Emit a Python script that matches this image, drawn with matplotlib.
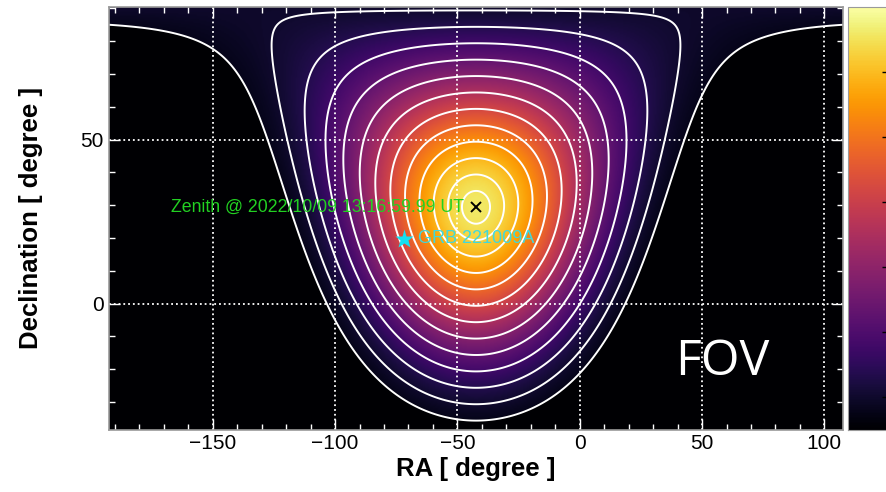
import numpy as np
import matplotlib
matplotlib.use("Agg")
import matplotlib.pyplot as plt
from matplotlib.ticker import MultipleLocator

# zenith of the site and the burst position (degrees)
zenith_ra = -42.4
zenith_dec = 29.36
grb_ra = -71.74
grb_dec = 19.77
zenith_label = "Zenith @ 2022/10/09 13:16:59.99 UT"
grb_label = "GRB 221009A"

# contours of zenith angle (degrees)
zenith_levels = [5, 10, 15, 20, 25, 30, 35, 40, 45, 50, 55, 60, 65]
# exposure shape ~ cos(z)^n, cut beyond z_cut
exposure_index = 3.5
z_cut = 65.0
exposure_peak = 0.61

ra_ticks = [-150, -100, -50, 0, 50, 100]
dec_ticks = [0, 50]
cbar_ticks = [0.05, 0.15, 0.25, 0.35, 0.45, 0.55]
ra_range = (zenith_ra - 150, zenith_ra + 150)
dec_range = (-38.5, 90.5)

plt.rcParams["font.family"] = ["Liberation Sans", "DejaVu Sans"]

# grid in RA / Dec
ra = np.linspace(ra_range[0], ra_range[1], 601)
dec = np.linspace(dec_range[0], dec_range[1], 301)
RA, DEC = np.meshgrid(ra, dec)
lat = np.radians(zenith_dec)
cosz = (np.sin(np.radians(DEC)) * np.sin(lat)
        + np.cos(np.radians(DEC)) * np.cos(lat) * np.cos(np.radians(RA - zenith_ra)))
zen = np.degrees(np.arccos(np.clip(cosz, -1, 1)))
exposure = exposure_peak * np.clip(cosz, 0, 1) ** exposure_index
exposure[zen > z_cut] = 0.0

fig = plt.figure(figsize=(8.86, 4.92), dpi=100)
ax = fig.add_axes([109 / 886, 62 / 492, 734 / 886, 423.3 / 492])
cax = fig.add_axes([848 / 886, 62 / 492, 44 / 886, 423.3 / 492])

im = ax.imshow(exposure, extent=[ra[0], ra[-1], dec[0], dec[-1]], origin="lower",
               aspect="auto", cmap="inferno", vmin=0, vmax=0.65, interpolation="bilinear")
ax.contour(RA, DEC, zen, levels=zenith_levels, colors="white", linewidths=1.4)

ax.set_xlim(ra_range)
ax.set_ylim(dec_range)

# ROOT-like axes: ticks inside, white, dotted grid
ax.set_xticks(ra_ticks)
ax.set_yticks(dec_ticks)
ax.xaxis.set_minor_locator(MultipleLocator(10))
ax.yaxis.set_minor_locator(MultipleLocator(10))
ax.tick_params(which="both", direction="in", top=True, right=True, colors="white",
               labelcolor="black", labelsize=15)
ax.tick_params(which="major", length=8, width=1)
ax.tick_params(which="minor", length=4.5, width=1)
ax.tick_params(axis="x", pad=3)
ax.tick_params(axis="y", pad=4)
ax.grid(which="major", color="white", linestyle=":", linewidth=1.3)
for s in ax.spines.values():
    s.set_color("#9a9a9a")
    s.set_linewidth(1.2)

ax.set_xlabel("RA [ degree ]", fontsize=18.5, fontweight="bold", va="center")
ax.set_ylabel("Declination [ degree ]", fontsize=18.5, fontweight="bold", va="center")
ax.xaxis.set_label_coords(0.5, -0.091)
ax.yaxis.set_label_coords(-0.106, 0.5)

# zenith and GRB markers
ax.plot(zenith_ra, zenith_dec, marker="x", color="black", markersize=7, mew=1.4)
ax.text(zenith_ra - 5, zenith_dec, zenith_label, color="#22d022", fontsize=12.8,
        ha="right", va="center")
ax.plot(grb_ra, grb_dec, marker="*", color="#14e0f0", markersize=14, mec="none")
ax.text(grb_ra + 5.5, grb_dec, grb_label, color="#40d8dc", fontsize=13,
        ha="left", va="center")

# colour bar, labels fall outside the picture
cb = fig.colorbar(im, cax=cax, ticks=cbar_ticks)
cb.outline.set_edgecolor("#9a9a9a")
cax.tick_params(direction="in", length=7, width=1, color="black", labelright=False)

fig.text(675 / 886, 1 - 375 / 492, "FOV", color="white", fontsize=36,
         family="Open Sans", va="baseline", ha="left")

fig.savefig("out.png", dpi=100)
plt.close(fig)
